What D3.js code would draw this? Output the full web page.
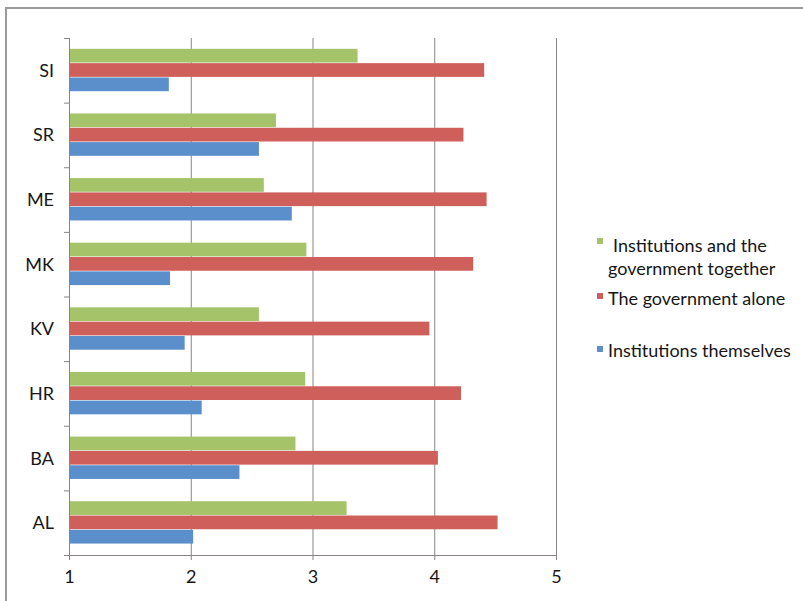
<!DOCTYPE html>
<html>
<head>
<meta charset="utf-8">
<script src="https://cdn.jsdelivr.net/npm/d3@7"></script>
<style>
  html, body { margin: 0; padding: 0; background: #fff; }
  svg { display: block; }
  text { font-family: Lato, "Open Sans", sans-serif; fill: #161616; }
</style>
</head>
<body>
<svg id="chart" width="803" height="601"></svg>
<script>
// Countries, listed top to bottom
const countries = ["SI", "SR", "ME", "MK", "KV", "HR", "BA", "AL"];

// Series names, in the order the bars sit within each group (top to bottom)
const seriesNames = [
  "Institutions and the government together",
  "The government alone",
  "Institutions themselves"
];

// Mean scores per country, same order as `countries`
const togetherValues = [3.37, 2.70, 2.60, 2.95, 2.56, 2.94, 2.86, 3.28];
const governmentValues = [4.41, 4.24, 4.43, 4.32, 3.96, 4.22, 4.03, 4.52];
const themselvesValues = [1.82, 2.56, 2.83, 1.83, 1.95, 2.09, 2.40, 2.02];

const xTicks = [1, 2, 3, 4, 5];
const seriesColors = ["#a5c46a", "#cf5f5b", "#5b8fcc"];

const svg = d3.select("#chart");

// outer frame
svg.append("rect")
  .attr("x", 6).attr("y", 8)
  .attr("width", 800).attr("height", 600)
  .attr("fill", "none").attr("stroke", "#9a9a9a").attr("stroke-width", 2);

const plot = { left: 69, right: 556, top: 38, bottom: 555 };

const x = d3.scaleLinear().domain([1, 5]).range([plot.left, plot.right]);
const y = d3.scaleBand().domain(countries)
  .range([plot.top, plot.bottom]).paddingInner(0.335).paddingOuter(0.1675);
const ySeries = d3.scaleBand().domain(seriesNames).range([0, y.bandwidth()]);
const color = d3.scaleOrdinal().domain(seriesNames).range(seriesColors);

const valueSets = [togetherValues, governmentValues, themselvesValues];
const rows = countries.map((c, i) => ({
  country: c,
  values: seriesNames.map((s, k) => ({ series: s, value: valueSets[k][i] }))
}));

// vertical gridlines
svg.append("g")
  .selectAll("line")
  .data(xTicks.slice(1))
  .join("line")
  .attr("x1", d => x(d) + 0.5).attr("x2", d => x(d) + 0.5)
  .attr("y1", plot.top).attr("y2", plot.bottom)
  .attr("stroke", "#8a8383").attr("stroke-width", 1);

// bars
svg.append("g")
  .selectAll("g")
  .data(rows)
  .join("g")
  .attr("transform", d => `translate(0,${y(d.country)})`)
  .selectAll("rect")
  .data(d => d.values)
  .join("rect")
  .attr("x", x(1))
  .attr("y", d => ySeries(d.series))
  .attr("width", d => x(d.value) - x(1))
  .attr("height", ySeries.bandwidth() - 0.6)
  .attr("fill", d => color(d.series));

// x axis
const xAxis = svg.append("g")
  .attr("transform", `translate(0,${plot.bottom})`)
  .call(d3.axisBottom(x).tickValues(xTicks).tickFormat(d3.format("d")).tickSize(5).tickPadding(10));
xAxis.select(".domain").attr("stroke", "#8a8383");
xAxis.selectAll(".tick line").attr("stroke", "#8a8383");
xAxis.selectAll("text").attr("font-size", 18).attr("fill", "#161616")
  .style("font-family", "Lato, 'Open Sans', sans-serif");

// y axis: line with ticks at category boundaries
const yAxisG = svg.append("g");
yAxisG.append("line")
  .attr("x1", plot.left + 0.5).attr("x2", plot.left + 0.5)
  .attr("y1", plot.top).attr("y2", plot.bottom)
  .attr("stroke", "#8a8383");
const boundaries = countries.map(c => y(c) - y.step() * y.paddingOuter()).concat([plot.bottom]);
yAxisG.selectAll(".btick")
  .data(boundaries)
  .join("line")
  .attr("class", "btick")
  .attr("x1", plot.left - 5).attr("x2", plot.left)
  .attr("y1", d => d + 0.5).attr("y2", d => d + 0.5)
  .attr("stroke", "#8a8383");
yAxisG.selectAll("text")
  .data(countries)
  .join("text")
  .attr("x", 54)
  .attr("y", d => y(d) + y.bandwidth() / 2)
  .attr("dy", "0.36em")
  .attr("text-anchor", "end")
  .attr("font-size", 18)
  .text(d => d);

// legend
const legendItems = [
  { series: seriesNames[0], lines: ["Institutions and the", "government together"], sy: 238, first: 252, dx: [16, 11] },
  { series: seriesNames[1], lines: ["The government alone"], sy: 293, first: 305, dx: [11] },
  { series: seriesNames[2], lines: ["Institutions themselves"], sy: 346, first: 357, dx: [11] }
];
const legend = svg.append("g").attr("transform", "translate(597,0)");
legendItems.forEach(item => {
  legend.append("rect")
    .attr("x", 0).attr("y", item.sy)
    .attr("width", 6).attr("height", 6)
    .attr("fill", color(item.series));
  item.lines.forEach((ln, i) => {
    legend.append("text")
      .attr("x", item.dx[i])
      .attr("y", item.first + i * 23)
      .attr("font-size", 18)
      .text(ln);
  });
});
</script>
</body>
</html>
